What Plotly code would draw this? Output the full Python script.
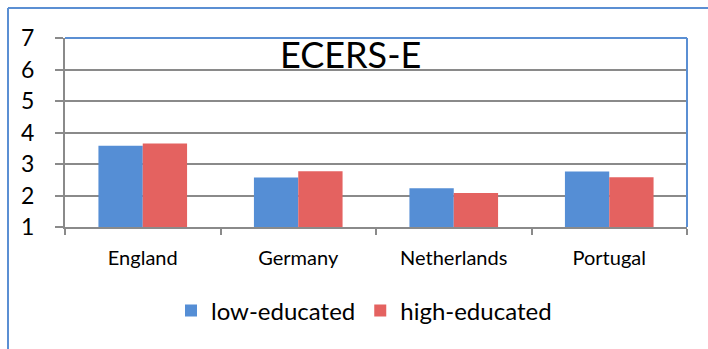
import plotly.graph_objects as go

countries = ["England", "Germany", "Netherlands", "Portugal"]
low_educated = [3.58, 2.57, 2.23, 2.76]
high_educated = [3.65, 2.77, 2.08, 2.58]
y_ticks = [1, 2, 3, 4, 5, 6, 7]

W, H = 708, 349
L, R, T, B = 65, 21, 38, 122
pw, ph = W - L - R, H - T - B

def px_x(x):
    return (x - L) / pw

def px_y(y):
    return 1 - (y - T) / ph

fig = go.Figure()
fig.add_bar(x=countries, y=[v - 1 for v in low_educated], base=1, name="low-educated",
            marker=dict(color="#558ED5", line=dict(width=0)))
fig.add_bar(x=countries, y=[v - 1 for v in high_educated], base=1, name="high-educated",
            marker=dict(color="#E46260", line=dict(width=0)))

font = "Lato, 'Open Sans', sans-serif"
fig.update_layout(
    width=W, height=H,
    margin=dict(l=L, r=R, t=T, b=B, pad=0),
    paper_bgcolor="white", plot_bgcolor="white",
    barmode="group", bargap=0.43, bargroupgap=0,
    font=dict(family=font, color="black"),
    showlegend=True,
    legend=dict(orientation="h", x=px_x(364), xanchor="center", y=px_y(311), yanchor="middle",
                font=dict(size=24, family=font), itemwidth=30, traceorder="normal"),
    xaxis=dict(showline=True, linecolor="#8a8a8a", linewidth=2, ticks="outside",
               tickson="boundaries", ticklen=6, tickcolor="#8a8a8a", tickwidth=1.5,
               tickfont=dict(size=20, family=font), showgrid=False, fixedrange=True,
               ticklabelstandoff=12),
    yaxis=dict(range=[1, 7], tickvals=y_ticks, showline=True, linecolor="#8a8a8a", linewidth=2,
               ticks="outside", ticklen=8, tickcolor="#8a8a8a", tickwidth=1.5,
               showgrid=True, gridcolor="#8a8a8a", gridwidth=1.5,
               tickfont=dict(size=23, family=font), ticklabelstandoff=16, zeroline=False),
    annotations=[dict(text="ECERS-E", x=px_x(350), y=px_y(54), xref="paper", yref="paper",
                      showarrow=False, font=dict(size=36, family=font, color="black"),
                      xanchor="center", yanchor="middle")],
    shapes=[
        dict(type="line", xref="paper", yref="paper", x0=0, x1=1, y0=1, y1=1,
             line=dict(color="#5B8FD3", width=2)),
        dict(type="line", xref="paper", yref="paper", x0=1, x1=1, y0=0, y1=1,
             line=dict(color="#5B8FD3", width=2)),
        dict(type="line", xref="paper", yref="paper", x0=px_x(8), x1=px_x(8), y0=px_y(8), y1=px_y(349),
             line=dict(color="#5B8FD3", width=2)),
        dict(type="line", xref="paper", yref="paper", x0=px_x(8), x1=px_x(708), y0=px_y(8), y1=px_y(8),
             line=dict(color="#5B8FD3", width=2)),
    ],
)

fig.write_html("out.html")
